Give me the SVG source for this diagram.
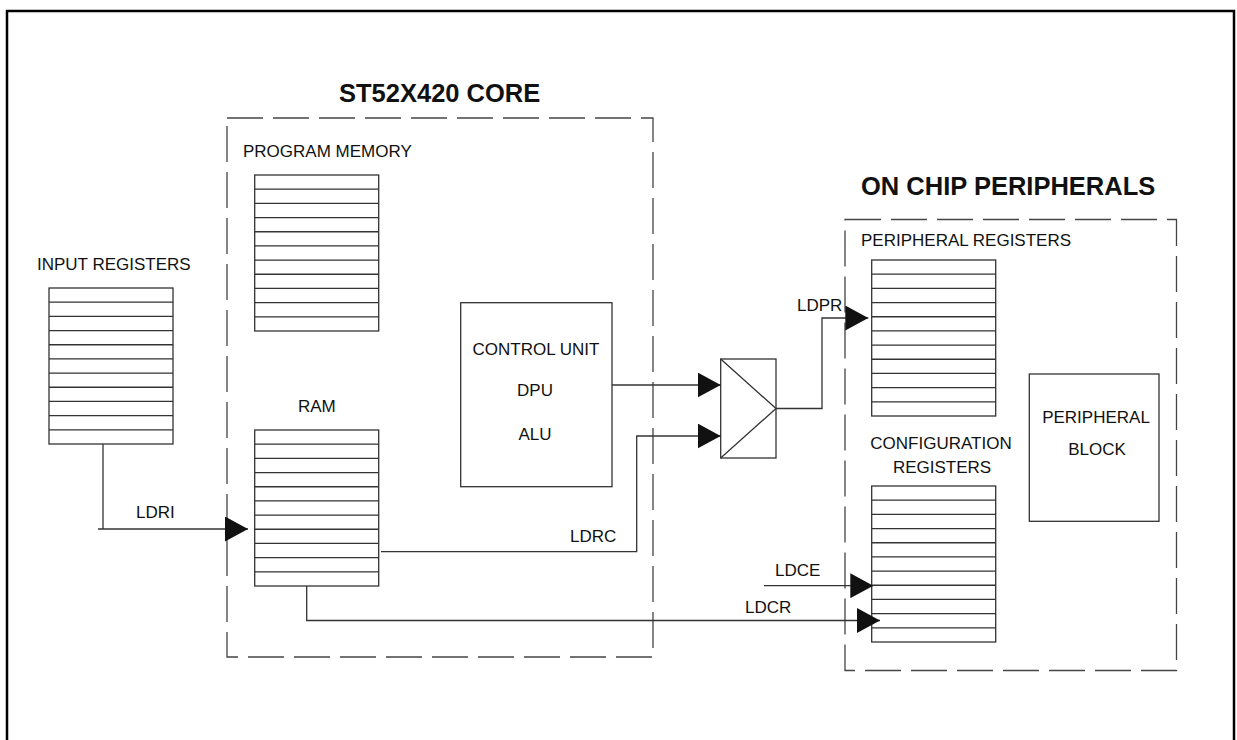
<svg xmlns="http://www.w3.org/2000/svg" xmlns:xlink="http://www.w3.org/1999/xlink" width="1237" height="740" viewBox="0 0 1237 740">
<style>
text{font-family:"Liberation Sans",Arial,sans-serif;fill:#111}
.lbl{font-size:17px}
.title{font-size:25.5px;font-weight:bold}
.mid{text-anchor:middle}
.box{fill:#fff;stroke:#333;stroke-width:1.3}
.dash{fill:none;stroke:#444;stroke-width:1.3;stroke-dasharray:36 10}
.wire{fill:none;stroke:#333;stroke-width:1.3}
</style>
<defs>
<marker id="arr" markerUnits="userSpaceOnUse" markerWidth="24" markerHeight="25" refX="23" refY="12.5" orient="auto">
<path d="M0,0 L23,12.5 L0,25 z" fill="#111"/>
</marker>
<g id="reg">
<rect class="box" x="0" y="0" width="124" height="156"/>
<path class="wire" d="M0,14.18H124M0,28.36H124M0,42.55H124M0,56.73H124M0,70.91H124M0,85.09H124M0,99.27H124M0,113.45H124M0,127.64H124M0,141.82H124"/>
</g>
</defs>
<rect x="7" y="11" width="1227" height="800" fill="none" stroke="#000" stroke-width="2.5"/>

<g id="core">
<rect class="dash" x="227" y="118" width="426" height="539"/>
<text class="title" x="339" y="102">ST52X420 CORE</text>
</g>
<g id="peripherals">
<rect class="dash" x="845" y="219.5" width="331.5" height="451"/>
<text class="title" x="861" y="195">ON CHIP PERIPHERALS</text>
</g>

<g id="input-registers">
<text class="lbl" x="37" y="270">INPUT REGISTERS</text>
<use xlink:href="#reg" x="49" y="288"/>
</g>
<g id="program-memory">
<text class="lbl" x="243" y="157">PROGRAM MEMORY</text>
<use xlink:href="#reg" x="254.7" y="175"/>
</g>
<g id="ram">
<text class="lbl" x="298" y="412">RAM</text>
<use xlink:href="#reg" x="254.7" y="430"/>
</g>
<g id="control-unit">
<rect class="box" x="460.7" y="302.7" width="151.3" height="184"/>
<text class="lbl mid" x="536" y="355">CONTROL UNIT</text>
<text class="lbl mid" x="535" y="396">DPU</text>
<text class="lbl mid" x="535" y="440">ALU</text>
</g>
<g id="mux">
<rect class="box" x="720.7" y="359" width="55.3" height="99"/>
<path class="wire" d="M720.7,359 L776,408.5 L720.7,458"/>
</g>
<g id="peripheral-registers">
<text class="lbl" x="861" y="246">PERIPHERAL REGISTERS</text>
<use xlink:href="#reg" x="871.7" y="260"/>
</g>
<g id="configuration-registers">
<text class="lbl mid" x="941" y="449">CONFIGURATION</text>
<text class="lbl mid" x="942" y="473">REGISTERS</text>
<use xlink:href="#reg" x="871.7" y="486"/>
</g>
<g id="peripheral-block">
<rect class="box" x="1029.3" y="374" width="129.7" height="147.3"/>
<text class="lbl mid" x="1096" y="423">PERIPHERAL</text>
<text class="lbl mid" x="1097" y="455">BLOCK</text>
</g>

<g id="connectors">
<path class="wire" d="M103,444 V529"/>
<path class="wire" d="M98,529 H248" marker-end="url(#arr)"/>
<text class="lbl" x="136" y="518">LDRI</text>
<path class="wire" d="M612,385 H720.7" marker-end="url(#arr)"/>
<path class="wire" d="M381,551.7 H636.7 V436 H720.7" marker-end="url(#arr)"/>
<text class="lbl" x="570" y="541.7">LDRC</text>
<path class="wire" d="M776,408.5 H822 V318 H868.3" marker-end="url(#arr)"/>
<text class="lbl" x="797" y="311">LDPR</text>
<path class="wire" d="M764,585.7 H873.3" marker-end="url(#arr)"/>
<text class="lbl" x="775" y="576">LDCE</text>
<path class="wire" d="M306.7,586 V620.5 H880" marker-end="url(#arr)"/>
<text class="lbl" x="745" y="613">LDCR</text>
</g>
</svg>
